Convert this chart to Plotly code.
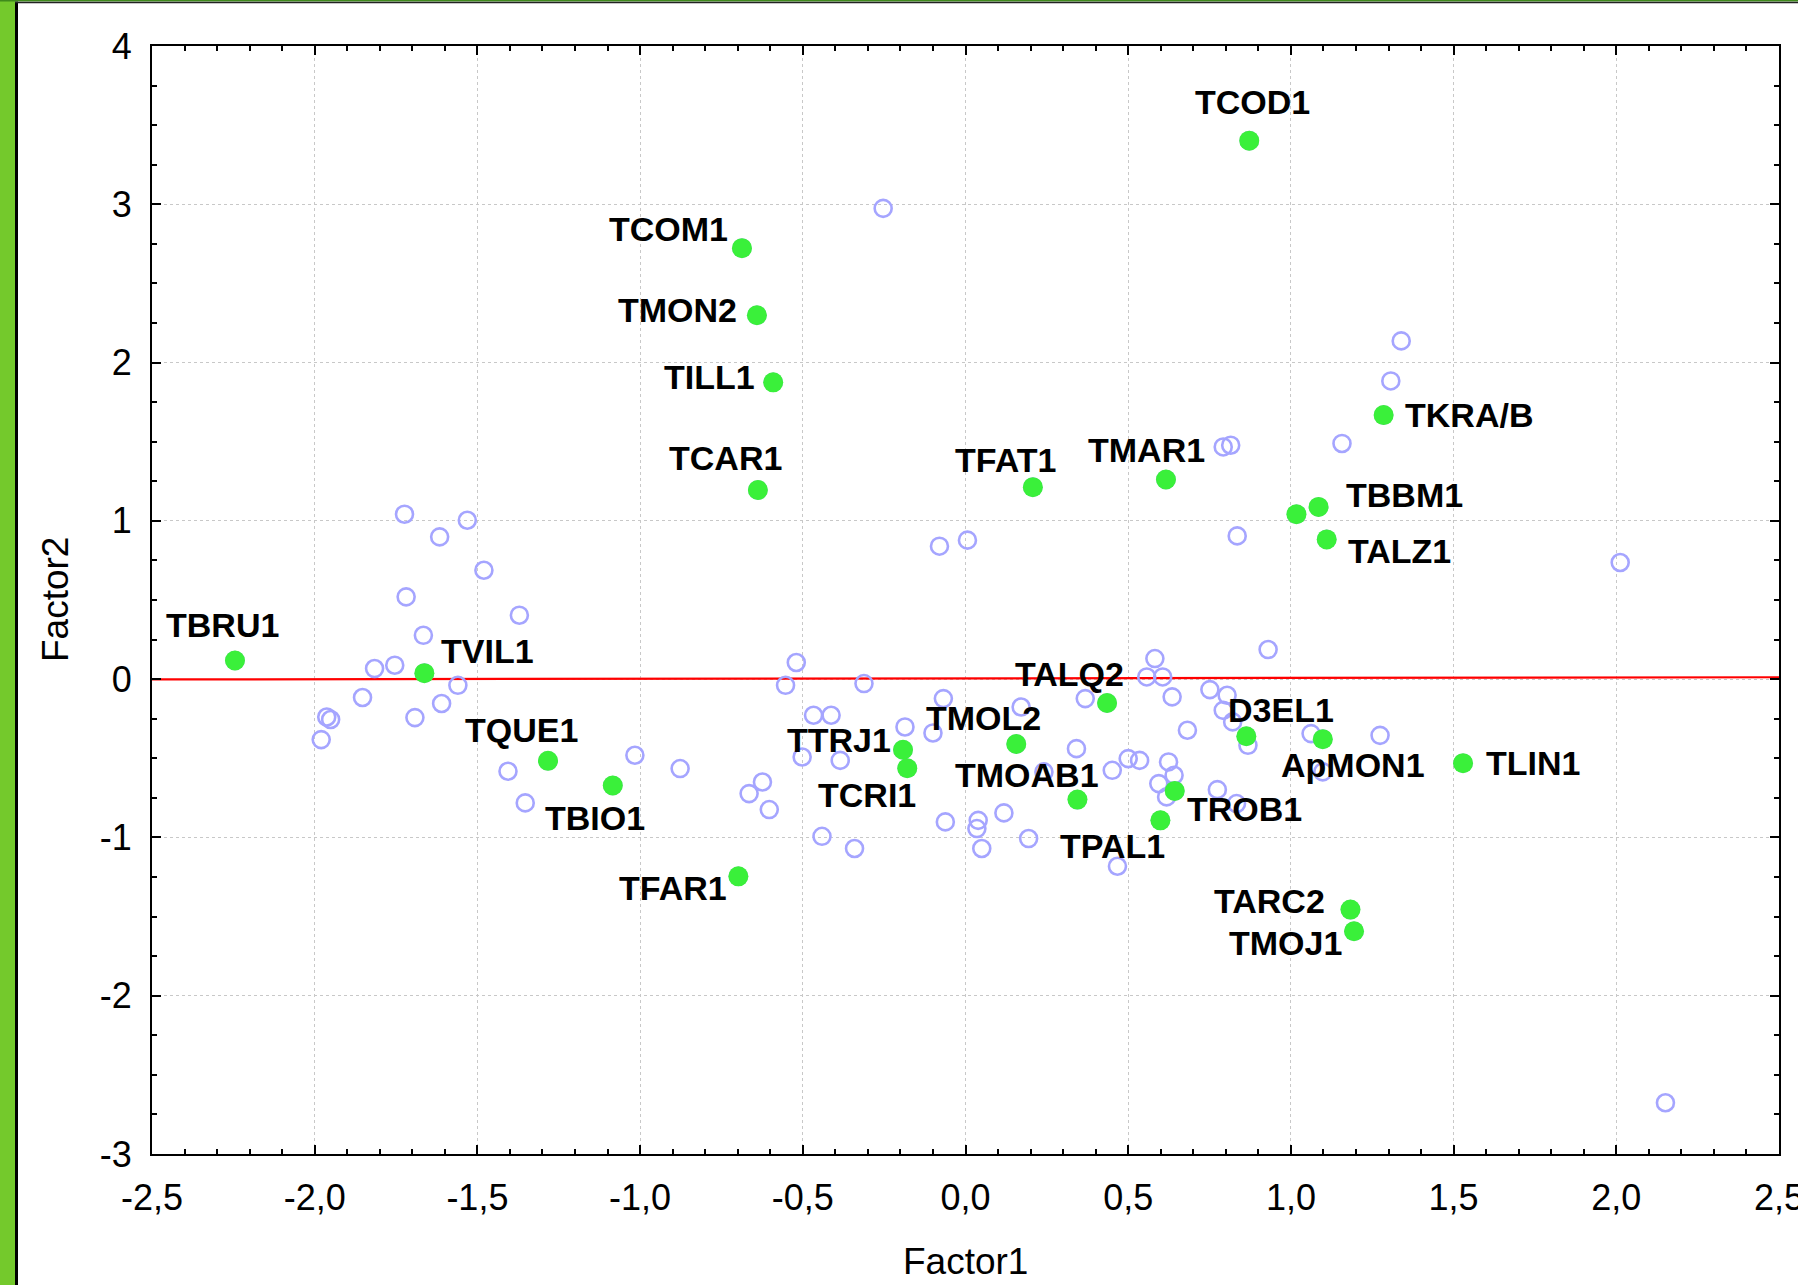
import plotly.graph_objects as go

# ---------------- data ----------------
label_names = ["TCOD1", "TCOM1", "TMON2", "TILL1", "TCAR1", "TFAT1", "TMAR1", "TKRA/B",
               "TBBM1", "", "TALZ1", "TBRU1", "TVIL1", "TQUE1", "TBIO1", "TFAR1",
               "TTRJ1", "TCRI1", "TMOL2", "TMOAB1", "TALQ2", "TPAL1", "TROB1", "D3EL1",
               "ApMON1", "TLIN1", "TARC2", "TMOJ1"]
label_f1 = [0.872, -0.687, -0.641, -0.591, -0.638, 0.207, 0.616, 1.285,
            1.085, 1.017, 1.110, -2.245, -1.663, -1.283, -1.084, -0.698,
            -0.192, -0.179, 0.156, 0.344, 0.435, 0.599, 0.643, 0.863,
            1.098, 1.529, 1.183, 1.194]
label_f2 = [3.402, 2.723, 2.299, 1.875, 1.195, 1.213, 1.261, 1.668,
            1.088, 1.042, 0.883, 0.118, 0.038, -0.516, -0.672, -1.246,
            -0.446, -0.563, -0.410, -0.761, -0.151, -0.892, -0.706, -0.361,
            -0.379, -0.531, -1.456, -1.593]

other_f1 = [-1.724, -1.616, -1.531, -1.480, -1.719, -1.371, -1.666, -1.816, -1.754, -1.560,
            -1.853, -1.610, -1.692, -1.963, -1.951, -1.980, -1.406, -1.353, -1.016, -0.877,
            -0.624, -0.665, -0.603, -0.520, -0.553, -0.312, -0.467, -0.413, -0.502, -0.385,
            -0.186, -0.100, -0.068, 0.171, 0.368, 0.341, 0.451, 0.500, 0.535, 0.582,
            0.557, 0.606, 0.635, 0.682, 0.624, 0.641, 0.594, 0.618, 0.241, -0.441,
            -0.341, -0.062, 0.039, 0.035, 0.050, 0.118, 0.194, 0.467, -0.080, 0.006,
            -0.253, 0.835, 2.012, 0.930, 0.751, 0.804, 0.792, 0.821, 0.868, 1.062,
            1.098, 1.274, 0.774, 0.833, 1.339, 1.307, 1.157, 0.792, 0.815, 2.151]
other_f2 = [1.042, 0.899, 1.004, 0.688, 0.520, 0.404, 0.277, 0.067, 0.088, -0.039,
            -0.116, -0.154, -0.243, -0.239, -0.255, -0.382, -0.582, -0.782, -0.481, -0.565,
            -0.650, -0.723, -0.824, 0.105, -0.039, -0.028, -0.228, -0.228, -0.492, -0.513,
            -0.302, -0.340, -0.123, -0.176, -0.123, -0.439, -0.576, -0.502, -0.513, 0.130,
            0.014, 0.014, -0.112, -0.323, -0.523, -0.607, -0.660, -0.744, -0.586, -0.993,
            -1.070, -0.902, -0.892, -0.944, -1.070, -0.845, -1.007, -1.182, 0.840, 0.878,
            2.974, 0.905, 0.737, 0.187, -0.066, -0.102, -0.197, -0.270, -0.418, -0.344,
            -0.586, -0.355, -0.698, -0.786, 2.137, 1.884, 1.489, 1.467, 1.478, -2.676]

fit_f1 = [-2.5, 2.5]
fit_f2 = [-0.002, 0.012]

x_tickvals = [-2.5, -2.0, -1.5, -1.0, -0.5, 0.0, 0.5, 1.0, 1.5, 2.0, 2.5]
x_ticktext = ["-2,5", "-2,0", "-1,5", "-1,0", "-0,5", "0,0", "0,5", "1,0", "1,5", "2,0", "2,5"]
y_tickvals = [-3, -2, -1, 0, 1, 2, 3, 4]
y_ticktext = ["-3", "-2", "-1", "0", "1", "2", "3", "4"]

# label offsets in pixels (styling)
label_dx = [3, -73, -79, -64, -32, -27, -19, 85,
            86, 0, 73, -12, 63, -27, -18, -65,
            -64, -40, -33, -50, -38, -48, 70, 35,
            30, 70, -81, -69]
label_dy = [39, 19, 5, 5, 32, 27, 30, 0,
            12, 0, -12, 35, 22, 31, -32, -12,
            10, -27, 26, 25, 29, -26, -18, 26,
            -26, 0, 9, -12]

# ---------------- layout geometry ----------------
W, H = 1798, 1285
L, R, T, B = 152, 19, 46, 131
PW = W - L - R
PH = H - T - B


def px_x(p):
    return (p - L) / PW


def px_y(p):
    return (H - B - p) / PH


FONT = "Liberation Sans, Arial, sans-serif"

fig = go.Figure()

fig.add_trace(go.Scatter(x=fit_f1, y=fit_f2, mode="lines",
                         line=dict(color="#ff0000", width=2.2), hoverinfo="skip"))
fig.add_trace(go.Scatter(x=other_f1 + label_f1, y=other_f2 + label_f2, mode="markers",
                         marker=dict(symbol="circle-open", size=17,
                                     line=dict(color="#a5a5ff", width=2.6),
                                     color="#a5a5ff")))
fig.add_trace(go.Scatter(x=label_f1, y=label_f2, mode="markers",
                         marker=dict(symbol="circle", size=20, color="#3af03a",
                                     line=dict(width=0))))

annotations = []
for name, xv, yv, dx, dy in zip(label_names, label_f1, label_f2, label_dx, label_dy):
    if not name:
        continue
    annotations.append(dict(x=xv, y=yv, xref="x", yref="y", text=name, showarrow=False,
                            xshift=dx, yshift=dy, xanchor="center", yanchor="middle",
                            font=dict(family=FONT, size=34, color="black", weight="bold")))

annotations.append(dict(x=0.5, y=px_y(1261), xref="paper", yref="paper", text="Factor1",
                        showarrow=False, xanchor="center", yanchor="middle",
                        font=dict(family=FONT, size=37, color="black")))
annotations.append(dict(x=px_x(55), y=0.5, xref="paper", yref="paper", text="Factor2",
                        showarrow=False, xanchor="center", yanchor="middle", textangle=-90,
                        font=dict(family=FONT, size=37, color="black")))

shapes = [
    # green frame strip on the left
    dict(type="rect", xref="paper", yref="paper", x0=px_x(0), x1=px_x(15),
         y0=px_y(H), y1=px_y(0), fillcolor="#74c92c", line=dict(width=0), layer="above"),
    dict(type="line", xref="paper", yref="paper", x0=px_x(16.5), x1=px_x(16.5),
         y0=px_y(H), y1=px_y(1.5), line=dict(color="black", width=3), layer="above"),
    # top border
    dict(type="rect", xref="paper", yref="paper", x0=px_x(0), x1=px_x(W),
         y0=px_y(1.6), y1=px_y(0), fillcolor="#3f8a1c", line=dict(width=0), layer="above"),
    dict(type="line", xref="paper", yref="paper", x0=px_x(15), x1=px_x(W),
         y0=px_y(2.5), y1=px_y(2.5), line=dict(color="#222222", width=1.5), layer="above"),
]

axis_common = dict(showline=True, linecolor="black", linewidth=2, mirror="ticks",
                   ticks="inside", ticklen=9, tickwidth=2, tickcolor="black",
                   showgrid=True, gridcolor="#c8c8c8", gridwidth=1, griddash="dot",
                   zeroline=False, ticklabeloverflow="allow",
                   tickfont=dict(family=FONT, size=36, color="black"))

fig.update_xaxes(range=[-2.5, 2.5], tickmode="array", tickvals=x_tickvals,
                 ticktext=x_ticktext, ticklabelstandoff=11,
                 minor=dict(dtick=0.1, ticks="inside", ticklen=5, tickwidth=1.5,
                            tickcolor="black", showgrid=False),
                 **axis_common)
fig.update_yaxes(range=[-3, 4], tickmode="array", tickvals=y_tickvals,
                 ticktext=y_ticktext, ticklabelstandoff=11,
                 minor=dict(dtick=0.25, ticks="inside", ticklen=5, tickwidth=1.5,
                            tickcolor="black", showgrid=False),
                 **axis_common)

fig.update_layout(width=W, height=H, margin=dict(l=L, r=R, t=T, b=B, autoexpand=False),
                  paper_bgcolor="white", plot_bgcolor="white", showlegend=False,
                  annotations=annotations, shapes=shapes)

fig.write_html("out.html")
